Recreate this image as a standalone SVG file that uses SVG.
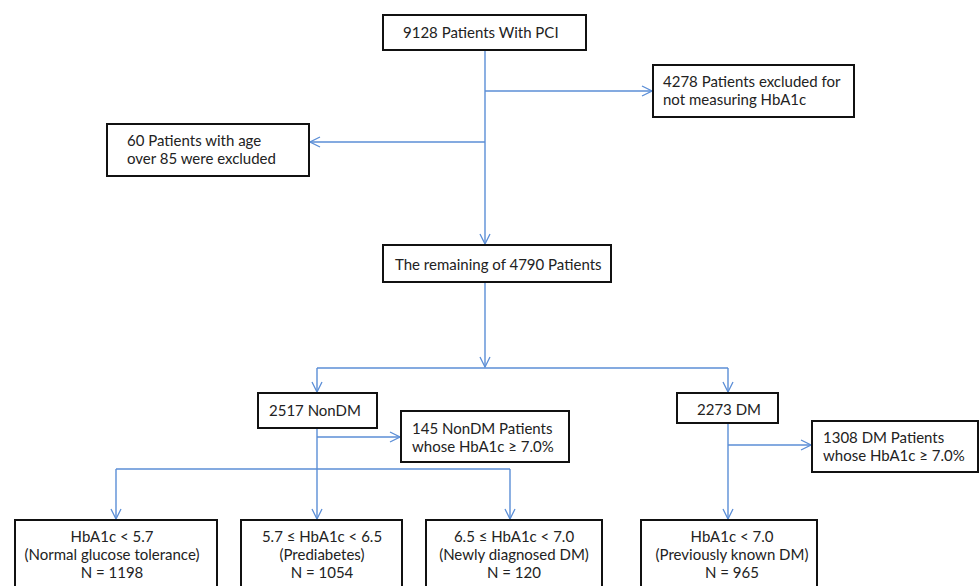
<svg xmlns="http://www.w3.org/2000/svg" width="980" height="586" viewBox="0 0 980 586">
<defs>
<marker id="arr" viewBox="0 0 12 12" refX="11" refY="6" markerWidth="12" markerHeight="12" markerUnits="userSpaceOnUse" orient="auto">
<path d="M1,1 L11,6 L1,11" fill="none" stroke="#5b8ed6" stroke-width="1.3"/>
</marker>
<style>
.box{fill:#fff;stroke:#111;stroke-width:2}
.t{font-family:Lato,"Noto Sans",sans-serif;font-size:15px;fill:#222}
.c{text-anchor:middle}
.ln{fill:none;stroke:#5b8ed6;stroke-width:1.4}
.a{marker-end:url(#arr)}
</style>
</defs>
<rect width="980" height="586" fill="#fff"/>
<g id="connectors">
<path class="ln a" d="M485,50 V244"/>
<path class="ln a" d="M485,91 H652"/>
<path class="ln a" d="M485,142 H310"/>
<path class="ln a" d="M485,282 V367"/>
<path class="ln" d="M317,368 H728"/>
<path class="ln a" d="M317,368 V392"/>
<path class="ln a" d="M728,368 V392"/>
<path class="ln" d="M317,428 V469"/>
<path class="ln a" d="M317,437 H400"/>
<path class="ln" d="M116,469 H510"/>
<path class="ln a" d="M116,469 V519"/>
<path class="ln a" d="M317,469 V519"/>
<path class="ln a" d="M510,469 V519"/>
<path class="ln a" d="M728,423 V519"/>
<path class="ln a" d="M728,445 H811"/>
</g>
<g id="n1"><rect class="box" x="383" y="15" width="203" height="35"/><text class="t" x="403" y="38">9128 Patients With PCI</text></g>
<g id="n2"><rect class="box" x="653" y="65" width="201" height="52"/><text class="t" x="663" y="87">4278 Patients excluded for</text><text class="t" x="663" y="105">not measuring HbA1c</text></g>
<g id="n3"><rect class="box" x="107" y="124" width="202" height="52"/><text class="t" x="127" y="146">60 Patients with age</text><text class="t" x="127" y="164">over 85 were excluded</text></g>
<g id="n4"><rect class="box" x="383" y="245" width="228" height="37"/><text class="t" x="395" y="270">The remaining of 4790 Patients</text></g>
<g id="n5"><rect class="box" x="258" y="393" width="119" height="35"/><text class="t" x="269" y="416">2517 NonDM</text></g>
<g id="n6"><rect class="box" x="401" y="411" width="168" height="51"/><text class="t" x="412" y="434">145 NonDM Patients</text><text class="t" x="412" y="452">whose HbA1c ≥ 7.0%</text></g>
<g id="n7"><rect class="box" x="677" y="393" width="101" height="30"/><text class="t" x="697" y="415">2273 DM</text></g>
<g id="n8"><rect class="box" x="812" y="421" width="166" height="51"/><text class="t" x="823" y="443">1308 DM Patients</text><text class="t" x="823" y="461">whose HbA1c ≥ 7.0%</text></g>
<g id="n9"><rect class="box" x="15" y="520" width="202" height="80"/><text class="t c" x="112" y="542">HbA1c &lt; 5.7</text><text class="t c" x="112" y="560">(Normal glucose tolerance)</text><text class="t c" x="112" y="578">N = 1198</text></g>
<g id="n10"><rect class="box" x="241" y="520" width="161" height="80"/><text class="t c" x="322" y="542">5.7 ≤ HbA1c &lt; 6.5</text><text class="t c" x="322" y="560">(Prediabetes)</text><text class="t c" x="322" y="578">N = 1054</text></g>
<g id="n11"><rect class="box" x="426" y="520" width="176" height="80"/><text class="t c" x="514" y="542">6.5 ≤ HbA1c &lt; 7.0</text><text class="t c" x="514" y="560">(Newly diagnosed DM)</text><text class="t c" x="514" y="578">N = 120</text></g>
<g id="n12"><rect class="box" x="641" y="520" width="176" height="80"/><text class="t c" x="732" y="542">HbA1c &lt; 7.0</text><text class="t c" x="732" y="560">(Previously known DM)</text><text class="t c" x="732" y="578">N = 965</text></g>
</svg>
